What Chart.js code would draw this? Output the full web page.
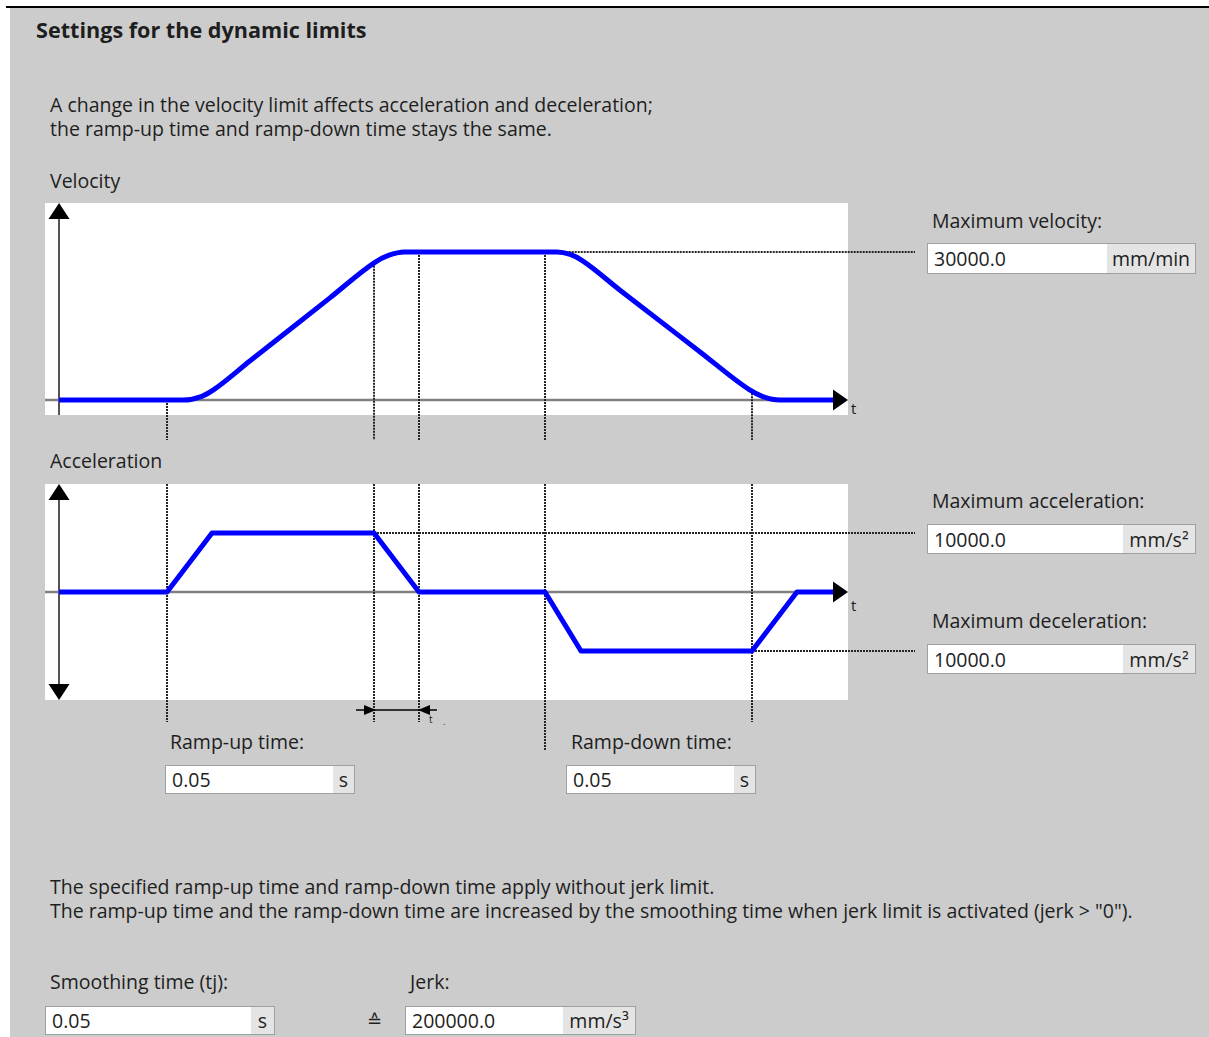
<!DOCTYPE html>
<html><head><meta charset="utf-8">
<script src="https://cdn.jsdelivr.net/npm/chart.js@4.4.0/dist/chart.umd.min.js"></script>
<style>
html,body{margin:0;padding:0;background:#fff;}
body{width:1209px;height:1037px;position:relative;overflow:hidden;font-family:"Open Sans","Noto Sans",sans-serif;color:#1e1e1e;}
#bg{position:absolute;left:10px;top:8px;right:0;bottom:0;background:#cccccc;}
#topline{position:absolute;left:6px;top:6px;right:0;height:2px;background:#000;}
.t{position:absolute;white-space:nowrap;font-size:19.5px;line-height:26px;height:26px;}
.box{position:absolute;display:flex;border:1px solid #a0a0a0;background:#fff;box-sizing:border-box;font-size:19.5px;align-items:stretch;}
.box .v{flex:1;padding-left:6px;display:flex;align-items:center;}
.box .u{background:#e4e4e4;display:flex;align-items:center;justify-content:center;}
canvas{position:absolute;}
</style></head>
<body>
<div id="bg"></div>
<div id="topline"></div>

<div class="t" style="left:36px;top:17px;font-weight:bold;font-size:21.6px;">Settings for the dynamic limits</div>
<div class="t" style="left:50px;top:92px;">A change in the velocity limit affects acceleration and deceleration;</div>
<div class="t" style="left:50px;top:116px;">the ramp-up time and ramp-down time stays the same.</div>
<div class="t" style="left:50px;top:168px;">Velocity</div>
<div class="t" style="left:50px;top:448px;">Acceleration</div>

<div class="t" style="left:932px;top:208px;">Maximum velocity:</div>
<div class="box" style="left:927px;top:243px;width:269px;height:31px;"><div class="v">30000.0</div><div class="u" style="width:88px;">mm/min</div></div>
<div class="t" style="left:932px;top:488px;">Maximum acceleration:</div>
<div class="box" style="left:927px;top:524px;width:269px;height:30px;"><div class="v">10000.0</div><div class="u" style="width:72px;">mm/s²</div></div>
<div class="t" style="left:932px;top:608px;">Maximum deceleration:</div>
<div class="box" style="left:927px;top:644px;width:269px;height:30px;"><div class="v">10000.0</div><div class="u" style="width:72px;">mm/s²</div></div>

<div class="t" style="left:851px;top:395px;font-size:15px;">t</div>
<div class="t" style="left:851px;top:592px;font-size:15px;">t</div>
<div class="t" style="left:429px;top:706px;font-size:10px;">t</div>
<div class="t" style="left:443px;top:709px;font-size:9px;">.</div>

<div class="t" style="left:170px;top:729px;">Ramp-up time:</div>
<div class="box" style="left:165px;top:765px;width:190px;height:29px;"><div class="v">0.05</div><div class="u" style="width:21px;">s</div></div>
<div class="t" style="left:571px;top:729px;">Ramp-down time:</div>
<div class="box" style="left:566px;top:765px;width:190px;height:29px;"><div class="v">0.05</div><div class="u" style="width:21px;">s</div></div>

<div class="t" style="left:50px;top:874px;">The specified ramp-up time and ramp-down time apply without jerk limit.</div>
<div class="t" style="left:50px;top:898px;">The ramp-up time and the ramp-down time are increased by the smoothing time when jerk limit is activated (jerk &gt; "0").</div>

<div class="t" style="left:50px;top:969px;">Smoothing time (tj):</div>
<div class="box" style="left:45px;top:1006px;width:230px;height:29px;"><div class="v">0.05</div><div class="u" style="width:23px;">s</div></div>
<div class="t" style="left:367px;top:1008px;font-size:18px;font-family:'DejaVu Sans';">≙</div>
<div class="t" style="left:410px;top:969px;">Jerk:</div>
<div class="box" style="left:405px;top:1006px;width:231px;height:29px;"><div class="v">200000.0</div><div class="u" style="width:72px;">mm/s³</div></div>

<canvas id="vel" width="880" height="255" style="left:40px;top:195px;"></canvas>
<canvas id="acc" width="880" height="290" style="left:40px;top:476px;"></canvas>

<script>
// ---- data ----
const timeMin = -0.0156, timeMax = 0.8767;              // time axis bounds (s)
const velTimes  = [0, 0.138, 0.158, 0.172, 0.212, 0.301, 0.351, 0.366, 0.384, 0.553, 0.568, 0.581, 0.623, 0.712, 0.767, 0.782, 0.801, 0.862];
const velValues = [0, 0, 700, 2100, 7900, 20700, 27900, 29300, 30000, 30000, 29500, 28300, 22300, 9800, 2100, 700, 0, 0];
const accTimes  = [0, 0.12, 0.17, 0.35, 0.40, 0.54, 0.58, 0.77, 0.82, 0.86];
const accValues = [0, 0, 10000, 10000, 0, 0, -10000, -10000, 0, 0];
const eventTimes = [0.12, 0.35, 0.40, 0.54, 0.77];
const velGuideFrom = [0, 27800, 30000, 30000, 2000];
const maxVelocity = 30000, maxAccel = 10000, maxDecel = -10000;
const velMin = -3040, velMax = 39930;
const accMin = -18300, accMax = 18300;

function tri(ctx, a, b, c){ctx.beginPath();ctx.moveTo(a[0],a[1]);ctx.lineTo(b[0],b[1]);ctx.lineTo(c[0],c[1]);ctx.closePath();ctx.fill();}

const deco = {
  id: 'deco',
  beforeDraw(chart){
    const {ctx, chartArea:a} = chart;
    ctx.save(); ctx.fillStyle = '#fff';
    ctx.fillRect(a.left, a.top, a.right - a.left, a.bottom - a.top);
    ctx.restore();
  },
  beforeDatasetsDraw(chart, args, o){
    const {ctx, chartArea:a, scales:{x, y}} = chart;
    const x0 = Math.round(x.getPixelForValue(0)), y0 = Math.round(y.getPixelForValue(0));
    ctx.save();
    ctx.strokeStyle = '#808080'; ctx.lineWidth = 2.5;
    ctx.beginPath(); ctx.moveTo(a.left, y0); ctx.lineTo(a.right - 12, y0); ctx.stroke();
    ctx.strokeStyle = '#555'; ctx.lineWidth = 2;
    ctx.beginPath(); ctx.moveTo(x0, a.top + 14); ctx.lineTo(x0, o.doubleArrow ? a.bottom - 14 : a.bottom); ctx.stroke();
    ctx.strokeStyle = '#262626'; ctx.lineWidth = 2; ctx.setLineDash([2, 1]);
    o.vguides.forEach(g => {
      const gx = Math.round(x.getPixelForValue(g.t));
      const top = g.from === undefined ? a.top : y.getPixelForValue(g.from);
      ctx.beginPath(); ctx.moveTo(gx, top); ctx.lineTo(gx, a.bottom + g.below); ctx.stroke();
    });
    o.hguides.forEach(g => {
      const gy = Math.round(y.getPixelForValue(g.v));
      ctx.beginPath(); ctx.moveTo(x.getPixelForValue(g.t), gy); ctx.lineTo(chart.width - 5, gy); ctx.stroke();
    });
    ctx.restore();
  },
  afterDatasetsDraw(chart, args, o){
    const {ctx, chartArea:a, scales:{x, y}} = chart;
    const x0 = x.getPixelForValue(0), y0 = y.getPixelForValue(0);
    ctx.save(); ctx.fillStyle = '#000';
    tri(ctx, [a.right, y0], [a.right - 15, y0 - 10.5], [a.right - 15, y0 + 10.5]);
    tri(ctx, [x0, a.top], [x0 - 10.5, a.top + 16], [x0 + 10.5, a.top + 16]);
    if (o.doubleArrow) tri(ctx, [x0, a.bottom], [x0 - 10.5, a.bottom - 16], [x0 + 10.5, a.bottom - 16]);
    if (o.dim) {
      const xa = x.getPixelForValue(o.dim[0]), xb = x.getPixelForValue(o.dim[1]), yy = a.bottom + 10;
      ctx.strokeStyle = '#000'; ctx.lineWidth = 1.5;
      ctx.beginPath(); ctx.moveTo(xa - 18, yy); ctx.lineTo(xb + 18, yy); ctx.stroke();
      tri(ctx, [xa + 2, yy], [xa - 10, yy - 5], [xa - 10, yy + 5]);
      tri(ctx, [xb - 1, yy], [xb + 11, yy - 5], [xb + 11, yy + 5]);
    }
    ctx.restore();
  }
};

function makeChart(id, times, values, ymin, ymax, pad, mode, decoOpts){
  return new Chart(document.getElementById(id), {
    type: 'line',
    data: { datasets: [{
      data: times.map((t, i) => ({x: t, y: values[i]})),
      borderColor: '#0000ff', borderWidth: 5, pointRadius: 0, fill: false,
      cubicInterpolationMode: mode, tension: 0, borderJoinStyle: 'round', clip: false
    }]},
    options: {
      responsive: false, animation: false, devicePixelRatio: 1,
      layout: { padding: pad },
      scales: {
        x: { type: 'linear', min: timeMin, max: timeMax, display: false },
        y: { min: ymin, max: ymax, display: false }
      },
      plugins: { legend: {display: false}, tooltip: {enabled: false}, deco: decoOpts }
    },
    plugins: [deco]
  });
}

makeChart('vel', velTimes, velValues, velMin, velMax,
  {left: 5, right: 72, top: 8, bottom: 35}, 'monotone',
  { doubleArrow: false,
    vguides: eventTimes.map((t, i) => ({t, from: velGuideFrom[i], below: 25})),
    hguides: [{v: maxVelocity, t: velTimes[9]}] });

makeChart('acc', accTimes, accValues, accMin, accMax,
  {left: 5, right: 72, top: 8, bottom: 66}, 'default',
  { doubleArrow: true,
    vguides: eventTimes.map(t => ({t, below: t === accTimes[5] ? 50 : 22})),
    hguides: [{v: maxAccel, t: accTimes[3]}, {v: maxDecel, t: accTimes[7]}],
    dim: [accTimes[3], accTimes[4]] });
</script>
</body></html>
